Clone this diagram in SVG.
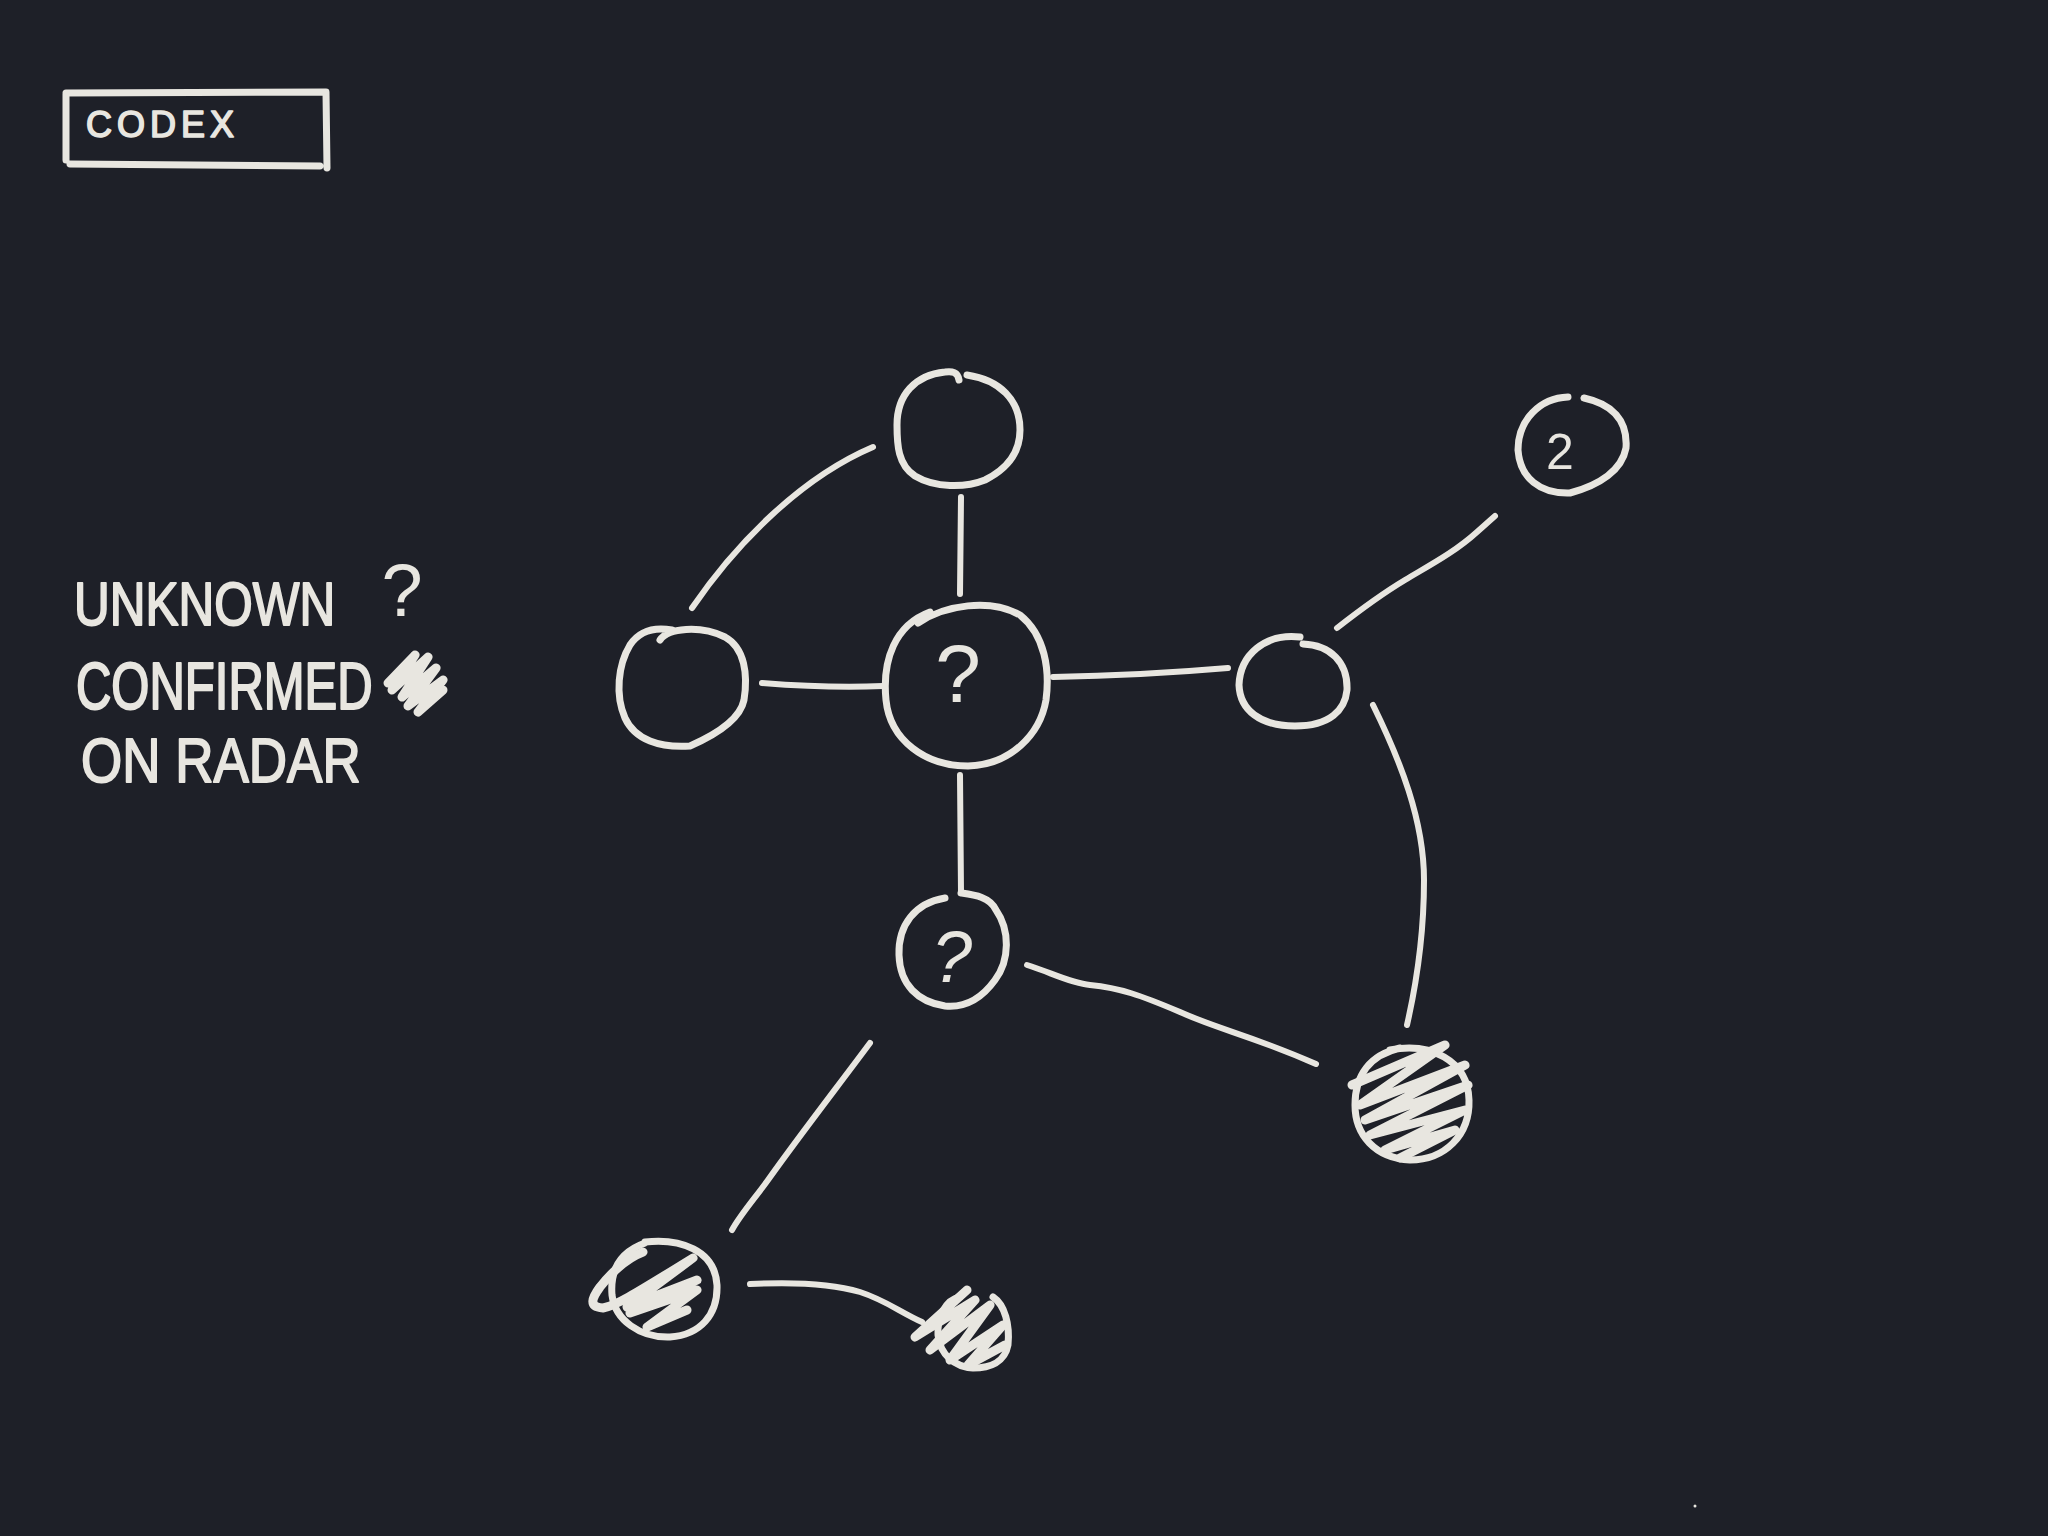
<svg xmlns="http://www.w3.org/2000/svg" width="2048" height="1536" viewBox="0 0 2048 1536">
<style>
.ink{fill:none;stroke:#e8e6e0;stroke-width:7;stroke-linecap:round;stroke-linejoin:round}
.con{fill:none;stroke:#e8e6e0;stroke-width:6;stroke-linecap:round;stroke-linejoin:round}
.scr{fill:none;stroke:#e8e6e0;stroke-width:9;stroke-linecap:round;stroke-linejoin:round}
.txt{fill:#e8e6e0;font-family:"Liberation Sans","DejaVu Sans",sans-serif}
.lg{stroke:#e8e6e0;stroke-width:1.6;stroke-linejoin:round}
</style>
<rect width="2048" height="1536" fill="#1e2028"/>

<g id="title">
<path class="ink" d="M66,94 L66,160 M66,93 L326,92 L327,168 M70,164 L320,166"/>
<text class="txt lg" x="86" y="137" font-size="36" letter-spacing="5">CODEX</text>
</g>

<g id="legend">
<text class="txt lg" transform="translate(74,625) scale(1,1.24)" font-size="49.5">UNKNOWN</text>
<text class="txt" x="402" y="616" font-size="74" text-anchor="middle">?</text>
<text class="txt lg" transform="translate(76,709) scale(1,1.36)" font-size="49">CONFIRMED</text>
<path class="scr" d="M388,683 L415,655 L392,690 L428,657 L402,697 L436,668 L408,706 L443,680 L418,712 L443,690"/>
<text class="txt lg" transform="translate(81,782) scale(1,1.2)" font-size="53">ON RADAR</text>
</g>

<g id="connectors">
<path class="con" d="M692,608 C735,545 800,478 873,447"/>
<path class="con" d="M961,497 L960,594"/>
<path class="con" d="M762,683 C800,686 840,688 883,686"/>
<path class="con" d="M1053,677 C1110,676 1170,673 1228,668"/>
<path class="con" d="M1337,628 C1360,610 1385,592 1405,580 C1430,565 1455,552 1477,532 L1495,516"/>
<path class="con" d="M1373,705 C1400,760 1424,820 1424,880 C1424,940 1415,990 1407,1025"/>
<path class="con" d="M960,775 L961,893"/>
<path class="con" d="M1027,965 C1050,972 1070,983 1090,985 C1120,988 1140,995 1180,1012 C1220,1030 1250,1035 1316,1064"/>
<path class="con" d="M870,1043 C835,1090 800,1135 768,1180 C755,1198 740,1215 732,1230"/>
<path class="con" d="M750,1284 C790,1282 830,1283 860,1292 C885,1300 900,1312 922,1322"/>
</g>

<g id="node-top">
<path class="ink" d="M967,375 C1000,380 1020,400 1020,430 C1020,455 1005,470 985,480 C965,488 935,488 915,476 C898,465 897,445 897,425 C897,395 915,375 945,372 C952,371 958,372 959,380"/>
</g>

<g id="node-left">
<path class="ink" d="M660,640 C668,628 700,625 725,637 C745,648 748,675 744,700 C740,720 715,735 690,746 C660,748 635,740 625,718 C615,695 618,665 630,645 C640,630 655,627 672,630"/>
</g>

<g id="node-center">
<path class="ink" d="M918,623 C945,605 990,598 1020,615 C1045,635 1050,670 1046,700 C1040,735 1010,765 968,766 C925,766 890,740 886,700 C882,660 895,625 930,612"/>
<text class="txt" x="958" y="702" font-size="82" text-anchor="middle">?</text>
</g>

<g id="node-right">
<path class="ink" d="M1303,644 C1330,645 1348,662 1347,690 C1345,710 1330,726 1295,726 C1260,726 1240,710 1239,685 C1240,655 1265,633 1300,637"/>
</g>

<g id="node-far-right">
<path class="ink" d="M1584,398 C1612,404 1628,420 1626,448 C1622,470 1600,485 1570,493 C1540,494 1520,478 1518,450 C1518,420 1540,398 1568,397"/>
<text class="txt" x="1560" y="469" font-size="50" text-anchor="middle">2</text>
</g>

<g id="node-lower">
<path class="ink" d="M961,893 C975,895 990,897 996,910 C1010,930 1010,960 995,980 C982,998 965,1008 945,1006 C918,1002 900,985 899,955 C898,925 915,903 945,898"/>
<text class="txt" x="952" y="982" font-size="72" text-anchor="middle" font-style="italic">?</text>
</g>

<g id="node-confirmed-right">
<path class="ink" d="M1390,1050 C1430,1042 1468,1060 1469,1100 C1470,1135 1445,1160 1410,1160 C1375,1158 1355,1135 1355,1105 C1355,1075 1370,1055 1400,1048"/>
<path class="scr" d="M1352,1085 L1445,1045 L1360,1105 L1465,1065 L1365,1120 L1468,1085 L1370,1135 L1465,1110 L1385,1150 L1455,1130 L1400,1158"/>
</g>

<g id="node-confirmed-bottom-left">
<path class="ink" d="M645,1242 C680,1238 715,1250 717,1285 C718,1315 700,1335 670,1337 C640,1338 615,1320 612,1295 C610,1270 620,1252 645,1243"/>
<path class="scr" d="M643,1252 C627,1258 612,1272 600,1287 C592,1298 588,1307 603,1308 C615,1306 630,1297 693,1258 L627,1307 L697,1280 L630,1313 L697,1290 L647,1327 L687,1310"/>
</g>

<g id="node-confirmed-bottom">
<path class="ink" d="M993,1297 C1005,1305 1010,1325 1008,1345 C1005,1362 990,1368 973,1368 C955,1367 940,1355 938,1335 C937,1318 945,1300 960,1297"/>
<path class="scr" d="M967,1290 L915,1337 L975,1300 L930,1350 L990,1305 L950,1360 L1003,1325 L968,1365 L1005,1345"/>
</g>

<circle cx="1695" cy="1506" r="1.5" fill="#e8e6e0"/>
</svg>
